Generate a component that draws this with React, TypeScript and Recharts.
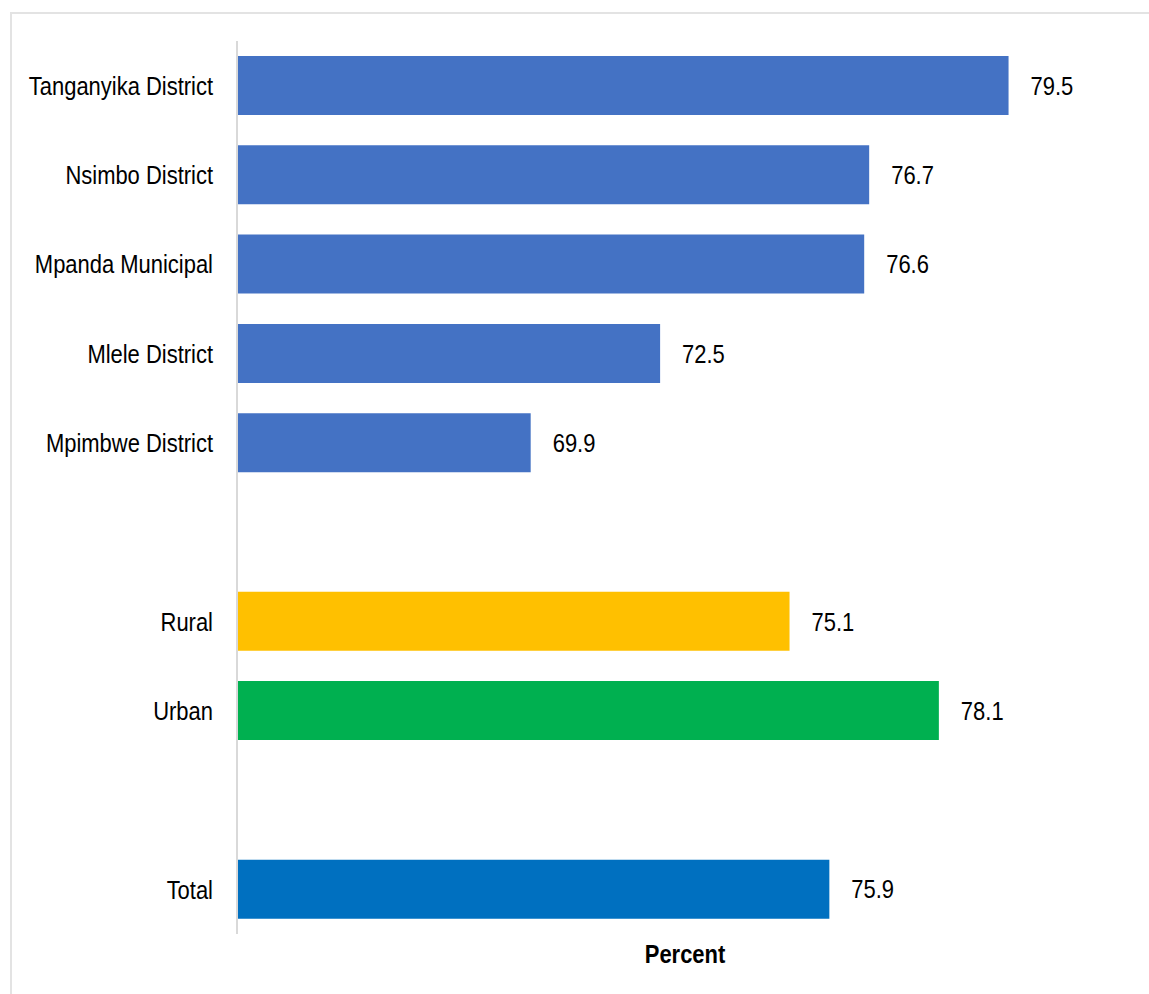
import React from 'react';
import { BarChart, Bar, XAxis, YAxis, Cell, LabelList } from 'recharts';

const categories = [
  'Tanganyika District',
  'Nsimbo District',
  'Mpanda Municipal',
  'Mlele District',
  'Mpimbwe District',
  'gap1',
  'Rural',
  'Urban',
  'gap2',
  'Total',
];
const values = [79.5, 76.7, 76.6, 72.5, 69.9, null, 75.1, 78.1, null, 75.9];
const colors = ['#4472C4', '#4472C4', '#4472C4', '#4472C4', '#4472C4', '#ffffff', '#FFC000', '#00B050', '#ffffff', '#0070C0'];

// Arial Narrow is not installed, so Liberation Sans is squeezed horizontally
const FONT = '"Liberation Sans", Arial, sans-serif';
const SQUEEZE = 0.845;

const data = categories.map((name, i) => ({ name, value: values[i] }));

function NarrowText({ x, y, text, anchor, size, bold }: any) {
  return (
    <g transform={`translate(${x},${y})`}>
      <text
        transform={`scale(${SQUEEZE},1)`}
        textAnchor={anchor}
        dy="0.355em"
        fill="#000"
        fontSize={size}
        fontWeight={bold ? 700 : 400}
        fontFamily={FONT}
      >
        {text}
      </text>
    </g>
  );
}

const CategoryTick = (props: any) => {
  const { x, y, payload } = props;
  if (String(payload.value).startsWith('gap')) return null;
  return <NarrowText x={x} y={y} text={payload.value} anchor="end" size={26} />;
};

const ValueLabel = (props: any) => {
  const { x, y, width, height, value } = props;
  if (value == null) return null;
  return <NarrowText x={x + width + 22} y={y + height / 2} text={value.toFixed(1)} anchor="start" size={26} />;
};

const AxisTitle = (props: any) => {
  const vb = props.viewBox;
  return <NarrowText x={vb.x + vb.width / 2} y={vb.y + 20} text="Percent" anchor="middle" size={26} bold />;
};

export default function App() {
  return (
    <div style={{ position: 'absolute', left: 0, top: 0, width: 1149, height: 994, fontFamily: FONT }}>
      <div
        style={{
          position: 'absolute',
          left: 10,
          top: 12,
          width: 1139,
          height: 982,
          boxSizing: 'border-box',
          borderTop: '2px solid #e3e3e3',
          borderLeft: '2px solid #e3e3e3',
        }}
      />
      <div style={{ position: 'absolute', left: 0, top: 0 }}>
        <BarChart
          width={1149}
          height={994}
          data={data}
          layout="vertical"
          margin={{ top: 41, right: 16, bottom: 0, left: 0 }}
          barSize={59}
        >
          <XAxis
            type="number"
            domain={[64, 82]}
            height={60}
            axisLine={false}
            tickLine={false}
            tick={false}
            label={<AxisTitle />}
          />
          <YAxis
            type="category"
            dataKey="name"
            width={237}
            axisLine={{ stroke: '#d9d9d9', strokeWidth: 2 }}
            tickLine={false}
            tickMargin={18}
            interval={0}
            tick={<CategoryTick />}
          />
          <Bar dataKey="value" isAnimationActive={false}>
            {data.map((d, i) => (
              <Cell key={`c-${i}`} fill={colors[i]} />
            ))}
            <LabelList dataKey="value" content={<ValueLabel />} />
          </Bar>
        </BarChart>
      </div>
    </div>
  );
}
